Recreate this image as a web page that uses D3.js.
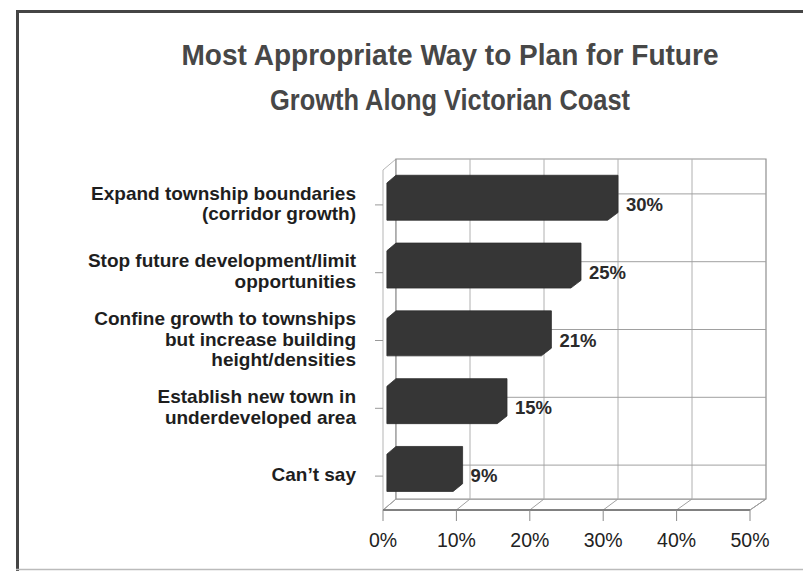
<!DOCTYPE html>
<html>
<head>
<meta charset="utf-8">
<script src="https://cdn.jsdelivr.net/npm/d3@7"></script>
<style>
  html, body { margin: 0; padding: 0; background: #fff; }
  svg { display: block; }
</style>
</head>
<body>
<svg id="chart" width="803" height="571"></svg>
<script>
// ---- data ----
const titleLines = ["Most Appropriate Way to Plan for Future", "Growth Along Victorian Coast"];
const categories = [
  "Expand township boundaries|(corridor growth)",
  "Stop future development/limit|opportunities",
  "Confine growth to townships|but increase building|height/densities",
  "Establish new town in|underdeveloped area",
  "Can\u2019t say"
];
const values = [30, 25, 21, 15, 9];
const valueLabels = ["30%", "25%", "21%", "15%", "9%"];
const xTicks = [0, 10, 20, 30, 40, 50];
const xTickLabels = ["0%", "10%", "20%", "30%", "40%", "50%"];

// ---- layout ----
const svg = d3.select("#chart");
const FONT = "'Liberation Sans', Arial, Helvetica, sans-serif";

const xFront = d3.scaleLinear().domain([0, 50]).range([383, 750]);
const xBack = d3.scaleLinear().domain([0, 50]).range([396, 766]);
const DY = 11;
const yTop = 170, yFloor = 510;
const y = d3.scaleBand().domain(categories).range([yTop + 1, yFloor]).paddingInner(0.45).paddingOuter(0.225);

function P(v, yy, z) {
  return [xFront(v) + z * (xBack(v) - xFront(v)), yy - z * DY];
}

// frame
const frame = svg.append("g").attr("stroke", "#454545").attr("fill", "none");
frame.append("line").attr("x1", 16).attr("x2", 803).attr("y1", 11.5).attr("y2", 11.5).attr("stroke-width", 3);
frame.append("line").attr("x1", 17.5).attr("x2", 17.5).attr("y1", 10).attr("y2", 571).attr("stroke-width", 3);
frame.append("line").attr("x1", 16).attr("x2", 803).attr("y1", 569.5).attr("y2", 569.5).attr("stroke-width", 1.5).attr("stroke", "#bbb");

// title
const titleBaselines = [65, 110];
const titleWidths = [537, 360];
svg.append("g").selectAll("text").data(titleLines).join("text")
  .attr("x", 450).attr("y", (d, i) => titleBaselines[i])
  .attr("text-anchor", "middle")
  .attr("font-family", FONT).attr("font-weight", "bold").attr("font-size", 29)
  .attr("fill", "#474747")
  .attr("textLength", (d, i) => titleWidths[i])
  .attr("lengthAdjust", "spacingAndGlyphs")
  .text(d => d);

// walls
const line = d3.line();
const walls = svg.append("g");
// floor
walls.append("path")
  .attr("d", line([P(0, yFloor, 0), P(50, yFloor, 0), P(50, yFloor, 1), P(0, yFloor, 1)]) + "Z")
  .attr("fill", "#fff").attr("stroke", "#8a8a8a").attr("stroke-width", 1);
// left wall
walls.append("path")
  .attr("d", line([P(0, yFloor, 0), P(0, yTop, 0), P(0, yTop, 1), P(0, yFloor, 1)]) + "Z")
  .attr("fill", "#fff").attr("stroke", "#b5b5b5").attr("stroke-width", 1);
// back wall
walls.append("path")
  .attr("d", line([P(0, yTop, 1), P(50, yTop, 1), P(50, yFloor, 1), P(0, yFloor, 1)]) + "Z")
  .attr("fill", "#fff").attr("stroke", "#8f8f8f").attr("stroke-width", 1.2);

// back-wall vertical gridlines
walls.append("g").selectAll("line").data(xTicks.slice(1, -1)).join("line")
  .attr("x1", d => P(d, yTop, 1)[0]).attr("x2", d => P(d, yFloor, 1)[0])
  .attr("y1", P(0, yTop, 1)[1]).attr("y2", P(0, yFloor, 1)[1])
  .attr("stroke", "#b0b0b0").attr("stroke-width", 1);
// back-wall horizontal gridlines at categories
walls.append("g").selectAll("line").data(categories).join("line")
  .attr("x1", P(0, 0, 1)[0]).attr("x2", P(50, 0, 1)[0])
  .attr("y1", d => y(d) + y.bandwidth() / 2 - DY).attr("y2", d => y(d) + y.bandwidth() / 2 - DY)
  .attr("stroke", "#a0a0a0").attr("stroke-width", 1);
// floor depth lines
walls.append("g").selectAll("line").data(xTicks).join("line")
  .attr("x1", d => P(d, yFloor, 0)[0]).attr("y1", d => P(d, yFloor, 0)[1])
  .attr("x2", d => P(d, yFloor, 1)[0]).attr("y2", d => P(d, yFloor, 1)[1])
  .attr("stroke", "#a0a0a0").attr("stroke-width", 1);
// front floor edge darker
walls.append("line")
  .attr("x1", P(0, yFloor, 0)[0]).attr("x2", P(50, yFloor, 0)[0])
  .attr("y1", yFloor).attr("y2", yFloor)
  .attr("stroke", "#6a6a6a").attr("stroke-width", 1.3);

// x ticks below front edge
svg.append("g").selectAll("line").data(xTicks).join("line")
  .attr("x1", d => xFront(d)).attr("x2", d => xFront(d))
  .attr("y1", yFloor).attr("y2", yFloor + 11)
  .attr("stroke", "#8a8a8a").attr("stroke-width", 1);

// y ticks at left
svg.append("g").selectAll("line").data(categories).join("line")
  .attr("x1", xFront(0) - 8).attr("x2", xFront(0))
  .attr("y1", d => y(d) + y.bandwidth() / 2).attr("y2", d => y(d) + y.bandwidth() / 2)
  .attr("stroke", "#999").attr("stroke-width", 1);

// bars
const z0 = 0.3, z1 = 1;
svg.append("g").selectAll("path").data(categories).join("path")
  .attr("d", (d, i) => {
    const y0 = y(d), y1 = y(d) + y.bandwidth(), v = values[i];
    return line([P(0, y1, z0), P(v, y1, z0), P(v, y1, z1), P(v, y0, z1), P(0, y0, z1), P(0, y0, z0)]) + "Z";
  })
  .attr("fill", "#363636").attr("stroke", "#2e2e2e").attr("stroke-width", 0.8);

// value labels
svg.append("g").selectAll("text").data(categories).join("text")
  .attr("x", (d, i) => P(values[i], 0, 1)[0] + 8)
  .attr("y", d => y(d) + y.bandwidth() / 2 + 6)
  .attr("font-family", FONT).attr("font-weight", "bold").attr("font-size", 18.5)
  .attr("fill", "#2a2a2a")
  .text((d, i) => valueLabels[i]);

// category labels
const LH = 20.5;
const catG = svg.append("g").attr("font-family", FONT).attr("font-weight", "bold")
  .attr("font-size", 19).attr("fill", "#1e1e1e").attr("text-anchor", "end");
categories.forEach(c => {
  const lines = c.split("|");
  const cy = y(c) + y.bandwidth() / 2;
  const first = cy - (lines.length - 1) * LH / 2 + 5;
  catG.append("text").selectAll("tspan").data(lines).join("tspan")
    .attr("x", 356).attr("y", (d, i) => first + i * LH)
    .text(d => d);
});

// x tick labels
svg.append("g").selectAll("text").data(xTicks).join("text")
  .attr("x", d => xFront(d)).attr("y", 547)
  .attr("text-anchor", "middle")
  .attr("font-family", FONT).attr("font-size", 19.5).attr("fill", "#222")
  .text((d, i) => xTickLabels[i]);
</script>
</body>
</html>
